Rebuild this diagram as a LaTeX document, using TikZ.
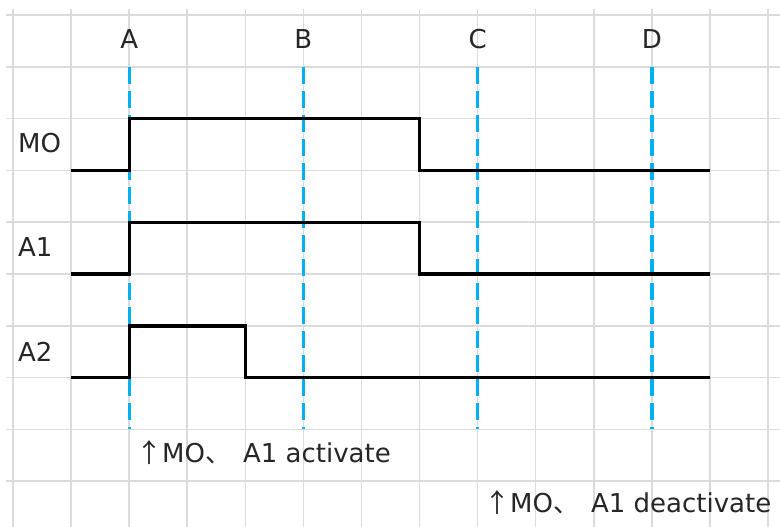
\documentclass[tikz,border=0pt]{standalone}
\usepackage{fontspec}
\setmainfont{DejaVu Sans}
\newfontfamily\cjk{Noto Sans CJK JP}
\begin{document}
\begin{tikzpicture}[x=1pt,y=-1pt,
  gridline/.style={draw=black!14,line width=1.5pt},
  signal/.style={draw=black,line width=3.4pt,line join=miter},
  marker/.style={draw={rgb,255:red,0;green,176;blue,240},line width=3.2pt,dash pattern=on 17pt off 7pt},
  lbl/.style={font=\fontsize{26}{30}\selectfont,text=black!85,inner sep=0pt},
  note/.style={font=\fontsize{26}{30}\selectfont,text=black!85,inner sep=0pt,anchor=west}]
\useasboundingbox (0,0) rectangle (780,527);
\fill[white] (0,0) rectangle (780,527);
% grid
\foreach \k in {0,...,13} {\draw[gridline] (13+58.08*\k,9) -- (13+58.08*\k,527);}
\foreach \j in {0,...,9} {\draw[gridline] (6,15+51.8*\j) -- (780,15+51.8*\j);}
% markers
\foreach \xx/\nm in {129.2/A,303.4/B,477.6/C,651.9/D} {
  \draw[marker] (\xx,66.8) -- (\xx,429.4);
  \node[lbl] (lab\nm) at (\xx,39) {\nm};
}
% signals
\draw[signal] (71.1,170.4) -- (129.2,170.4) -- (129.2,118.6) -- (419.6,118.6) -- (419.6,170.4) -- (710,170.4);
\draw[signal] (71.1,274) -- (129.2,274) -- (129.2,222.2) -- (419.6,222.2) -- (419.6,274) -- (710,274);
\draw[signal] (71.1,377.6) -- (129.2,377.6) -- (129.2,325.8) -- (245.3,325.8) -- (245.3,377.6) -- (710,377.6);
% signal names
\node[note] (nMO) at (18,143) {MO};
\node[note] (nA1) at (18,247) {A1};
\node[note] (nA2) at (18,352) {A2};
% notes
\node[note] (act) at (136,453) {{\cjk ↑}MO{\cjk 、}\hspace{12pt}A1 activate};
\node[note] (deact) at (484,503) {{\cjk ↑}MO{\cjk 、}\hspace{12pt}A1 deactivate};
\end{tikzpicture}
\end{document}
